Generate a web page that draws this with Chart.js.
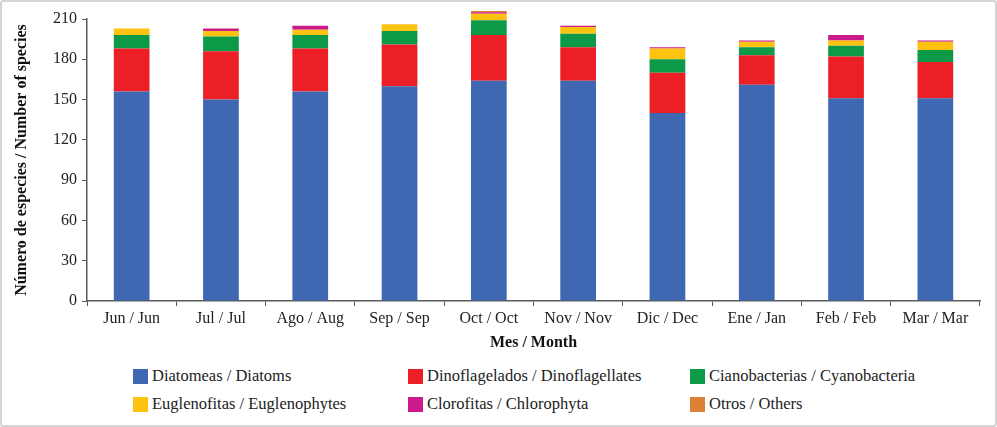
<!DOCTYPE html>
<html>
<head>
<meta charset="utf-8">
<script src="https://cdn.jsdelivr.net/npm/chart.js@4"></script>
<style>
  body { margin: 0; background: #fff; }
  #wrap {
    position: relative; width: 997px; height: 427px;
    box-sizing: border-box; border: 2px solid #d4d4d4; border-radius: 3px;
    background: #fff; overflow: hidden;
  }
  #chartBox { position: absolute; left: -2px; top: -2px; width: 997px; height: 352px; }
  .leg {
    position: absolute; display: flex; align-items: center;
    font-family: "Liberation Serif", "Times New Roman", serif; font-size: 16.5px; color: #222;
  }
  .leg span.box { width: 15px; height: 15px; margin-right: 4px; display: inline-block; }
</style>
</head>
<body>
<div id="wrap">
  <div id="chartBox"><canvas id="myChart"></canvas></div>
  <div id="legend"></div>
</div>
<script>
// Meses / categorías
const months = ["Jun / Jun", "Jul / Jul", "Ago / Aug", "Sep / Sep", "Oct / Oct",
  "Nov / Nov", "Dic / Dec", "Ene / Jan", "Feb / Feb", "Mar / Mar"];

// Número de especies por grupo
const diatoms = [156, 150, 156, 160, 164, 164, 140, 161, 151, 151];
const dinoflagellates = [32, 36, 32, 31, 34, 25, 30, 22, 31, 27];
const cyanobacteria = [10, 11, 10, 10, 11, 10, 10, 6, 8, 9];
const euglenophytes = [5, 4, 4, 5, 5, 5, 8, 4, 4, 6];
const chlorophyta = [0, 2, 3, 0, 1, 1, 1, 1, 4, 1];
const others = [0, 0, 0, 0, 1, 0, 0, 0, 0, 0];

const yTicks = [0, 30, 60, 90, 120, 150, 180, 210];

const groups = [
  { label: "Diatomeas / Diatoms", data: diatoms, color: "#3F67B2" },
  { label: "Dinoflagelados / Dinoflagellates", data: dinoflagellates, color: "#EC1F26" },
  { label: "Cianobacterias / Cyanobacteria", data: cyanobacteria, color: "#0D9A48" },
  { label: "Euglenofitas / Euglenophytes", data: euglenophytes, color: "#FEC210" },
  { label: "Clorofitas / Chlorophyta", data: chlorophyta, color: "#CB1A8C" },
  { label: "Otros / Others", data: others, color: "#DD8137" },
];

const serif = "'Liberation Serif', 'Times New Roman', serif";
const axisColor = "#5a5a5a";

const ctx = document.getElementById("myChart").getContext("2d");
const myChart = new Chart(ctx, {
  type: "bar",
  data: {
    labels: months,
    datasets: groups.map((g) => ({
      label: g.label,
      data: g.data,
      backgroundColor: g.color,
      borderWidth: 0,
      clip: false,
      barPercentage: 0.4,
      categoryPercentage: 1,
    })),
  },
  options: {
    responsive: true,
    maintainAspectRatio: false,
    animation: false,
    layout: { padding: { left: 12, right: 17, top: 19, bottom: 0 } },
    plugins: {
      legend: { display: false },
      tooltip: { enabled: false },
    },
    scales: {
      x: {
        stacked: true,
        afterFit: (scale) => { scale.height = 51; },
        border: { display: true, color: axisColor, width: 1.5 },
        grid: { drawOnChartArea: false, drawTicks: true, tickLength: 5, color: axisColor, offset: true },
        ticks: { color: "#222", padding: 3, font: { family: serif, size: 16 } },
        title: {
          display: true, text: "Mes / Month", color: "#111",
          padding: { top: 2, bottom: 0 },
          font: { family: serif, size: 16, weight: "bold" },
        },
      },
      y: {
        stacked: true,
        min: 0,
        max: 210,
        afterFit: (scale) => { scale.width = 75; },
        afterBuildTicks: (scale) => { scale.ticks = yTicks.map((v) => ({ value: v })); },
        border: { display: true, color: axisColor, width: 1.5 },
        grid: { drawOnChartArea: false, drawTicks: true, tickLength: 5, color: axisColor },
        ticks: { color: "#222", padding: 5, font: { family: serif, size: 16 } },
        title: {
          display: true, text: "Número de especies / Number of species", color: "#111",
          padding: 0,
          font: { family: serif, size: 16, weight: "bold" },
        },
      },
    },
  },
});

// Leyenda en tres columnas
const legendPos = [
  [133, 366], [408, 366], [690, 366],
  [133, 394], [408, 394], [690, 394],
];
const legendEl = document.getElementById("legend");
groups.forEach((g, i) => {
  const item = document.createElement("div");
  item.className = "leg";
  item.style.left = (legendPos[i][0] - 2) + "px";
  item.style.top = (legendPos[i][1] - 2) + "px";
  item.innerHTML = `<span class="box" style="background:${g.color}"></span>${g.label}`;
  legendEl.appendChild(item);
});
</script>
</body>
</html>
